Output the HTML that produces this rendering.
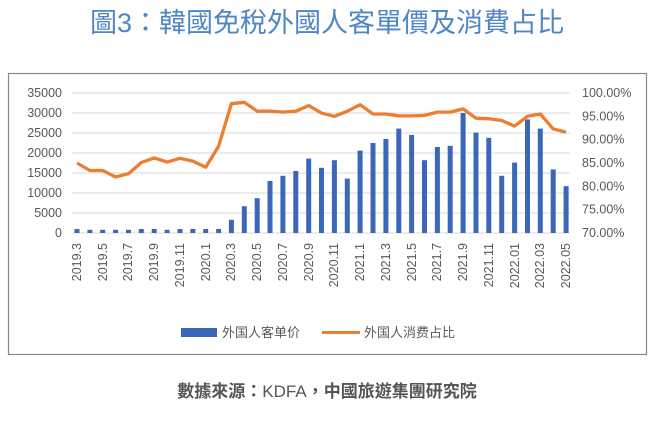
<!DOCTYPE html>
<html><head><meta charset="utf-8"><style>
body{margin:0;background:#fff;width:655px;height:420px;overflow:hidden;font-family:"Liberation Sans","Noto Sans CJK TC",sans-serif}
</style></head><body>
<svg width="655" height="420" xmlns="http://www.w3.org/2000/svg" font-family="Liberation Sans, Noto Sans CJK TC, sans-serif">
<text x="327" y="32" text-anchor="middle" font-size="27" fill="#4f86c6" font-family="Liberation Sans, Noto Sans CJK TC, sans-serif">圖3：韓國免稅外國人客單價及消費占比</text>
<rect x="8.5" y="73.5" width="638" height="281" fill="none" stroke="#888" stroke-width="1.2"/>
<g stroke="#d9d9d9" stroke-width="1">
<line x1="72" x2="570" y1="93" y2="93"/><line x1="72" x2="570" y1="113" y2="113"/><line x1="72" x2="570" y1="133" y2="133"/><line x1="72" x2="570" y1="153" y2="153"/><line x1="72" x2="570" y1="173" y2="173"/><line x1="72" x2="570" y1="193" y2="193"/><line x1="72" x2="570" y1="213" y2="213"/><line x1="72" x2="570" y1="233" y2="233"/>
</g>
<g font-size="12.5" fill="#595959" text-anchor="end">
<text x="62" y="97">35000</text><text x="62" y="117">30000</text><text x="62" y="137">25000</text><text x="62" y="157">20000</text><text x="62" y="177">15000</text><text x="62" y="197">10000</text><text x="62" y="217">5000</text><text x="62" y="237">0</text>
</g>
<g font-size="12.5" fill="#595959">
<text x="582" y="97">100.00%</text><text x="582" y="120.3">95.00%</text><text x="582" y="143.7">90.00%</text><text x="582" y="167">85.00%</text><text x="582" y="190.3">80.00%</text><text x="582" y="213.7">75.00%</text><text x="582" y="237">70.00%</text>
</g>
<g id="bars" fill="#3a67b8"></g>
<polyline id="line" fill="none" stroke="#ed7d31" stroke-width="3.3" stroke-linejoin="round"/>
<g font-size="12.5" fill="#595959" text-anchor="end">
<text transform="translate(81,243) rotate(-90)">2019.3</text>
<text transform="translate(107,243) rotate(-90)">2019.5</text>
<text transform="translate(132,243) rotate(-90)">2019.7</text>
<text transform="translate(158,243) rotate(-90)">2019.9</text>
<text transform="translate(184,243) rotate(-90)">2019.11</text>
<text transform="translate(210,243) rotate(-90)">2020.1</text>
<text transform="translate(235,243) rotate(-90)">2020.3</text>
<text transform="translate(261,243) rotate(-90)">2020.5</text>
<text transform="translate(287,243) rotate(-90)">2020.7</text>
<text transform="translate(313,243) rotate(-90)">2020.9</text>
<text transform="translate(338,243) rotate(-90)">2020.11</text>
<text transform="translate(364,243) rotate(-90)">2021.1</text>
<text transform="translate(390,243) rotate(-90)">2021.3</text>
<text transform="translate(416,243) rotate(-90)">2021.5</text>
<text transform="translate(441,243) rotate(-90)">2021.7</text>
<text transform="translate(467,243) rotate(-90)">2021.9</text>
<text transform="translate(493,243) rotate(-90)">2021.11</text>
<text transform="translate(519,243) rotate(-90)">2022.01</text>
<text transform="translate(544,243) rotate(-90)">2022.03</text>
<text transform="translate(570,243) rotate(-90)">2022.05</text>
</g>
<rect x="181" y="328" width="36" height="9" fill="#3a67b8"/>
<text x="222" y="337" font-size="13" fill="#595959">外国人客单价</text>
<line x1="322" x2="360" y1="332.5" y2="332.5" stroke="#ed7d31" stroke-width="3"/>
<text x="364" y="337" font-size="13" fill="#595959">外国人消费占比</text>
<text x="327" y="397" text-anchor="middle" font-size="17" fill="#555" font-weight="bold">數據來源：<tspan font-weight="normal">KDFA</tspan>，中國旅遊集團研究院</text>
</svg>
<script>
var v=[1000,800,800,800,800,1000,1000,800,1000,1000,1000,1000,3300,6700,8700,13000,14300,15500,18600,16300,18200,13600,20600,22500,23500,26100,24500,18200,21500,21800,30000,25100,23800,14300,17600,28400,26100,15900,11700];
var p=[85,83.4,83.4,82,82.7,85.1,86.1,85.2,86,85.4,84.1,88.6,97.7,98,96.1,96.1,95.9,96.1,97.3,95.7,95,96.1,97.5,95.5,95.5,95.1,95.1,95.2,95.9,95.9,96.6,94.6,94.5,94.1,92.9,95,95.5,92.3,91.6];
var g=document.getElementById('bars'),s='',pts=[];
for(var i=0;i<39;i++){var x=77+i*12.87,h=v[i]*0.004;s+='<rect x="'+(x-2.5).toFixed(1)+'" y="'+(233-h).toFixed(1)+'" width="5" height="'+h.toFixed(1)+'"/>';pts.push(x.toFixed(1)+','+(233-(p[i]-70)*140/30).toFixed(1));}
g.innerHTML=s;document.getElementById('line').setAttribute('points',pts.join(' '));
</script>
</body></html>
